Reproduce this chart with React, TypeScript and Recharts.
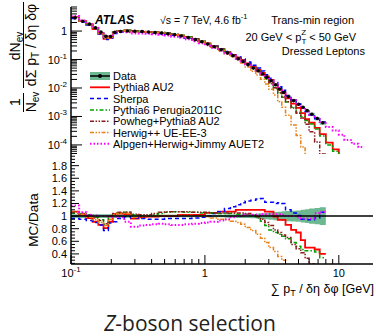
import React from 'react'
import { ComposedChart, Line, Area, Scatter, XAxis, YAxis, ReferenceLine } from 'recharts'

// bin edges of the histogram [GeV]
const binEdges = [
  0.1, 0.115, 0.13, 0.145, 0.16, 0.175, 0.19, 0.205, 0.22, 0.25, 0.28, 0.32, 0.36, 0.4, 0.45, 0.5, 0.56,
  0.63, 0.7, 0.8, 0.9, 1.0, 1.1, 1.25, 1.4, 1.55, 1.7, 1.85, 2.0, 2.2, 2.4, 2.6, 2.8, 3.0, 3.25, 3.5,
  3.75, 4.0, 4.4, 4.8, 5.2, 5.6, 6.0, 6.6, 7.2, 8.0, 9.0, 10, 11, 12.5, 14, 15.5,
]

// data (first 45 bins, 0.1 - 8 GeV)
const dataValues = [
  2.9, 2.2, 1.75, 1.3, 0.92, 0.66, 0.64, 0.9, 0.97, 1.0, 0.99, 0.96, 0.93, 0.89, 0.85, 0.8, 0.74, 0.67,
  0.59, 0.5, 0.42, 0.35, 0.28, 0.22, 0.17, 0.135, 0.107, 0.086, 0.066, 0.05, 0.04, 0.031, 0.024, 0.018,
  0.013, 0.0092, 0.007, 0.005, 0.0036, 0.0027, 0.0021, 0.0016, 0.0012, 0.00085, 0.0006,
]
// relative uncertainty of the data (green band)
const dataRelErr = [
  0.03, 0.03, 0.03, 0.03, 0.03, 0.03, 0.03, 0.03, 0.025, 0.025, 0.025, 0.02, 0.02, 0.02, 0.02, 0.02, 0.02,
  0.02, 0.02, 0.02, 0.02, 0.02, 0.02, 0.02, 0.025, 0.025, 0.03, 0.03, 0.03, 0.035, 0.04, 0.045, 0.05, 0.06,
  0.065, 0.07, 0.075, 0.08, 0.085, 0.09, 0.1, 0.11, 0.12, 0.13, 0.14,
]

// MC / Data ratios, same bins as the data
const ratioPythia8 = [
  1.07, 1.02, 0.97, 0.91, 0.86, 0.81, 0.91, 1.03, 1.04, 1.03, 0.96, 0.98, 0.99, 0.99, 1.0, 1.0, 1.0, 1.02,
  1.02, 1.02, 1.02, 1.05, 1.05, 1.07, 1.07, 1.07, 1.1, 1.1, 1.1, 1.1, 1.1, 1.1, 1.07, 1.07, 0.99, 0.94,
  0.94, 0.86, 0.78, 0.74, 0.62, 0.5, 0.5, 0.47, 0.4,
]
const ratioSherpa = [
  0.96, 0.95, 0.93, 0.9, 0.86, 0.77, 0.89, 0.91, 0.96, 0.99, 0.97, 0.96, 0.95, 0.95, 0.95, 0.96, 0.96, 0.96,
  0.96, 0.97, 0.98, 1.0, 1.04, 1.07, 1.12, 1.15, 1.18, 1.21, 1.24, 1.25, 1.27, 1.28, 1.22, 1.22, 1.2, 1.21,
  1.2, 1.1, 1.05, 1.01, 0.95, 0.94, 0.94, 0.97, 1.06,
]
const ratioPythia6 = [
  1.05, 1.04, 1.02, 0.98, 0.94, 0.87, 1.0, 1.03, 1.05, 1.06, 1.02, 1.0, 1.0, 1.02, 1.04, 1.06, 1.07, 1.07,
  1.06, 1.06, 1.05, 1.05, 1.05, 1.04, 1.04, 1.04, 1.03, 1.03, 1.03, 1.0, 0.97, 0.92, 0.85, 0.78, 0.74, 0.71,
  0.68, 0.64, 0.58, 0.52, 0.47, 0.45, 0.45, 0.43, 0.34,
]
const ratioPowheg = [
  1.06, 1.04, 1.0, 0.97, 0.93, 0.88, 1.0, 1.04, 1.06, 1.06, 1.03, 1.02, 1.02, 1.04, 1.06, 1.07, 1.07, 1.07,
  1.07, 1.06, 1.06, 1.06, 1.05, 1.05, 1.05, 1.05, 1.05, 1.05, 1.04, 1.02, 0.99, 0.95, 0.9, 0.85, 0.78, 0.74,
  0.7, 0.66, 0.55, 0.48, 0.42, 0.33, 0.24, 0.15, 0.08,
]
const ratioHerwig = [
  1.06, 1.03, 0.98, 0.94, 0.9, 0.85, 0.95, 1.02, 1.04, 1.04, 0.98, 0.99, 1.0, 1.0, 1.01, 1.01, 1.01, 1.01,
  1.01, 1.0, 1.0, 0.99, 0.97, 0.95, 0.94, 0.92, 0.9, 0.87, 0.82, 0.77, 0.71, 0.65, 0.58, 0.5, 0.44, 0.36,
  0.3, 0.22, 0.14, 0.08, 0.04, 0.02, 0.01, 0.005, 0.003,
]
const ratioAlpgen = [
  1.17, 1.06, 1.02, 1.01, 1.0, 1.0, 1.0, 0.99, 0.98, 0.91, 0.83, 0.85, 0.86, 0.87, 0.88, 0.87, 0.86, 0.86,
  0.87, 0.88, 0.89, 0.9, 0.91, 0.93, 0.95, 0.98, 1.0, 1.01, 1.02, 1.02, 1.02, 1.03, 1.03, 1.03, 1.03, 1.03,
  1.02, 1.0, 1.0, 0.98, 0.96, 0.96, 0.96, 1.05, 1.07,
]

// MC predictions past the last data bin (8 GeV and up)
const tailPythia8 = [1.2e-4, 7e-5, 4e-5]
const tailPythia6 = [1.0e-4, 6e-5, 3.5e-5]
const tailAlpgen = [4.3e-4, 3.2e-4, 2.3e-4, 1.5e-4, 1.1e-4, 8.5e-5]

// axis ticks
const xTicks = [0.1, 0.2, 0.3, 0.4, 0.5, 0.6, 0.7, 0.8, 0.9, 1, 2, 3, 4, 5, 6, 7, 8, 9, 10]
const topYMajor = [1e-4, 1e-3, 1e-2, 1e-1, 1]
const topYMantissa = [2, 3, 4, 5, 6, 7, 8, 9]
const ratioMajor = [0.4, 0.6, 0.8, 1, 1.2, 1.4, 1.6, 1.8]
const ratioMinor = [
  0.25, 0.3, 0.35, 0.45, 0.5, 0.55, 0.65, 0.7, 0.75, 0.85, 0.9, 0.95, 1.05, 1.1, 1.15, 1.25, 1.3, 1.35,
  1.45, 1.5, 1.55, 1.65, 1.7, 1.75, 1.85, 1.9, 1.95,
]

const X_DOMAIN: [number, number] = [0.1, 18]
const TOP_Y_DOMAIN: [number, number] = [4.8e-5, 7]
const RATIO_DOMAIN: [number, number] = [0.24, 1.985]

const FONT = '"Liberation Sans", Arial, Helvetica, sans-serif'

const mcSeries = [
  { key: 'py8', name: 'Pythia8 AU2', color: '#ff0000', dash: undefined, width: 1.8, ratio: ratioPythia8, tail: tailPythia8 },
  { key: 'sherpa', name: 'Sherpa', color: '#0000ff', dash: '4 3', width: 1.5, ratio: ratioSherpa, tail: [] as number[] },
  { key: 'py6', name: 'Pythia6 Perugia2011C', color: '#00a000', dash: '4 2 1.5 2', width: 1.5, ratio: ratioPythia6, tail: tailPythia6 },
  { key: 'powheg', name: 'Powheg+Pythia8 AU2', color: '#8c1c1c', dash: '4 1.5 1.5 1.5 1.5 1.5', width: 1.5, ratio: ratioPowheg, tail: [] as number[] },
  { key: 'herwig', name: 'Herwig++ UE-EE-3', color: '#e8801a', dash: '4 1.5 1.5 1.5 1.5 1.5', width: 1.5, ratio: ratioHerwig, tail: [] as number[] },
  { key: 'alpgen', name: 'Alpgen+Herwig+Jimmy AUET2', color: '#ff00ff', dash: '1.5 2', width: 2, ratio: ratioAlpgen, tail: tailAlpgen },
]

const BAND = '#6cb991'

// stepAfter: the value of bin i sits on edge i, the last bin is repeated on its right edge
const atEdge = <T,>(vals: T[], i: number): T | null =>
  i < vals.length ? vals[i] : i === vals.length && vals.length > 0 ? vals[vals.length - 1] : null

const dataBand = dataValues.map((d, i) => [d * (1 - dataRelErr[i]), d * (1 + dataRelErr[i])])
const ratioBand = dataRelErr.map((e) => [1 - e, 1 + e])

const topRows = binEdges.map((x, i) => {
  const row: Record<string, unknown> = { x, band: atEdge(dataBand, i) }
  mcSeries.forEach((s) => {
    const vals = [...dataValues.map((d, j) => d * s.ratio[j]), ...s.tail]
    row[s.key] = atEdge(vals, i)
  })
  return row
})

const ratioRows = binEdges.slice(0, dataValues.length + 1).map((x, i) => {
  const row: Record<string, unknown> = { x, band: atEdge(ratioBand, i) }
  mcSeries.forEach((s) => {
    row[s.key] = atEdge(s.ratio, i)
  })
  return row
})

const dataPoints = dataValues.map((y, i) => ({ x: Math.sqrt(binEdges[i] * binEdges[i + 1]), y }))

const topYTicks = [
  ...topYMajor,
  ...[-5, -4, -3, -2, -1, 0].flatMap((e) => topYMantissa.map((m) => m * Math.pow(10, e))),
].filter((v) => v >= TOP_Y_DOMAIN[0] && v <= TOP_Y_DOMAIN[1])

const isMajorLog = (v: number) => {
  const l = Math.log10(v)
  return Math.abs(l - Math.round(l)) < 1e-9
}

function LogLabel({ v, x, y, anchor }: { v: number; x: number; y: number; anchor: 'middle' | 'end' }) {
  const e = Math.round(Math.log10(v))
  if (e >= 0) {
    return (
      <text x={x} y={y} textAnchor={anchor} fontSize={11} fontFamily={FONT} fill="#000">
        {e === 0 ? '1' : '10'}
      </text>
    )
  }
  return (
    <text x={x} y={y} textAnchor={anchor} fontSize={11} fontFamily={FONT} fill="#000">
      10<tspan dy={-5} fontSize={8}>{e}</tspan>
    </text>
  )
}

const frame = { stroke: '#000', strokeWidth: 1.5 }

const xTickBottom = (withLabel: boolean) => (props: any) => {
  const { x, y, payload } = props
  const major = isMajorLog(payload.value)
  return (
    <g>
      <line x1={x} y1={y} x2={x} y2={y - (major ? 9 : 5)} stroke="#000" />
      {withLabel && major && <LogLabel v={payload.value} x={x} y={y + 13} anchor="middle" />}
    </g>
  )
}

const xTickTop = (props: any) => {
  const { x, y, payload } = props
  const major = isMajorLog(payload.value)
  return <line x1={x} y1={y} x2={x} y2={y + (major ? 9 : 5)} stroke="#000" />
}

const yTickLogLeft = (props: any) => {
  const { x, y, payload } = props
  const major = isMajorLog(payload.value)
  return (
    <g>
      <line x1={x} y1={y} x2={x + (major ? 11 : 6)} y2={y} stroke="#000" />
      {major && <LogLabel v={payload.value} x={x - 4} y={y + 4} anchor="end" />}
    </g>
  )
}

const yTickLogRight = (props: any) => {
  const { x, y, payload } = props
  const major = isMajorLog(payload.value)
  return <line x1={x} y1={y} x2={x - (major ? 11 : 6)} y2={y} stroke="#000" />
}

const isRatioMajor = (v: number) => ratioMajor.some((m) => Math.abs(m - v) < 1e-9)

const yTickRatioLeft = (props: any) => {
  const { x, y, payload } = props
  const v = payload.value
  const major = isRatioMajor(v)
  return (
    <g>
      <line x1={x} y1={y} x2={x + (major ? 8 : 4)} y2={y} stroke="#000" />
      {major && (
        <text x={x - 4} y={y + 4} textAnchor="end" fontSize={11} fontFamily={FONT} fill="#000">
          {v === 1 ? '1' : v.toFixed(1)}
        </text>
      )}
    </g>
  )
}

const yTickRatioRight = (props: any) => {
  const { x, y, payload } = props
  const major = isRatioMajor(payload.value)
  return <line x1={x} y1={y} x2={x - (major ? 8 : 4)} y2={y} stroke="#000" />
}

const axisCommon = {
  type: 'number' as const,
  allowDataOverflow: true,
  interval: 0 as const,
  tickSize: 0,
  tickMargin: 0,
  tickLine: false,
  axisLine: frame,
}

function Legend() {
  const x0 = 90
  const x1 = 110
  const rows = [{ name: 'Data' }, ...mcSeries]
  return (
    <g fontFamily={FONT} fontSize={11}>
      {rows.map((r, i) => {
        const cy = 76 + i * 11.3
        const s = mcSeries.find((m) => m.name === r.name)
        return (
          <g key={r.name}>
            {s ? (
              <line x1={x0} y1={cy} x2={x1} y2={cy} stroke={s.color} strokeWidth={s.width} strokeDasharray={s.dash} />
            ) : (
              <g>
                <rect x={x0} y={cy - 4} width={x1 - x0} height={8} fill={BAND} />
                <line x1={x0} y1={cy} x2={x1} y2={cy} stroke="#000" strokeWidth={1.5} />
                <circle cx={(x0 + x1) / 2} cy={cy} r={2} fill="#000" />
              </g>
            )}
            <text x={113} y={cy + 4} fill="#000">
              {r.name}
            </text>
          </g>
        )
      })}
    </g>
  )
}

export default function App() {
  return (
    <div style={{ position: 'absolute', left: 0, top: 0, width: 376, height: 336, background: '#fff' }}>
      <div style={{ position: 'absolute', left: 0, top: 0 }}>
        <ComposedChart width={376} height={155} data={topRows} margin={{ top: 7, right: 3, bottom: 1, left: 0 }}>
          <XAxis {...axisCommon} xAxisId="b" dataKey="x" scale="log" domain={X_DOMAIN} ticks={xTicks} height={0} tick={xTickBottom(false)} />
          <XAxis {...axisCommon} xAxisId="t" orientation="top" dataKey="x" scale="log" domain={X_DOMAIN} ticks={xTicks} height={0} tick={xTickTop} />
          <YAxis {...axisCommon} yAxisId="l" scale="log" domain={TOP_Y_DOMAIN} ticks={topYTicks} width={71} tick={yTickLogLeft} />
          <YAxis {...axisCommon} yAxisId="r" orientation="right" scale="log" domain={TOP_Y_DOMAIN} ticks={topYTicks} width={0} tick={yTickLogRight} />
          <Area xAxisId="b" yAxisId="l" dataKey="band" type="stepAfter" fill={BAND} fillOpacity={1} stroke="none" isAnimationActive={false} />
          {mcSeries.map((s) => (
            <Line
              key={s.key}
              xAxisId="b"
              yAxisId="l"
              dataKey={s.key}
              type="stepAfter"
              stroke={s.color}
              strokeWidth={s.width}
              strokeDasharray={s.dash}
              dot={false}
              isAnimationActive={false}
            />
          ))}
          <Scatter
            xAxisId="b"
            yAxisId="l"
            data={dataPoints}
            dataKey="y"
            isAnimationActive={false}
            shape={(p: any) => <circle cx={p.cx} cy={p.cy} r={1.8} fill="#000" />}
          />
        </ComposedChart>
      </div>

      <div style={{ position: 'absolute', left: 0, top: 154 }}>
        <ComposedChart width={376} height={146} data={ratioRows} margin={{ top: 0, right: 3, bottom: 0, left: 0 }}>
          <XAxis {...axisCommon} xAxisId="b" dataKey="x" scale="log" domain={X_DOMAIN} ticks={xTicks} height={36} tick={xTickBottom(true)} />
          <XAxis {...axisCommon} xAxisId="t" orientation="top" dataKey="x" scale="log" domain={X_DOMAIN} ticks={xTicks} height={0} tick={xTickTop} />
          <YAxis {...axisCommon} yAxisId="l" domain={RATIO_DOMAIN} ticks={[...ratioMajor, ...ratioMinor]} width={71} tick={yTickRatioLeft} />
          <YAxis {...axisCommon} yAxisId="r" orientation="right" domain={RATIO_DOMAIN} ticks={[...ratioMajor, ...ratioMinor]} width={0} tick={yTickRatioRight} />
          <Area xAxisId="b" yAxisId="l" dataKey="band" type="stepAfter" fill={BAND} fillOpacity={1} stroke="none" isAnimationActive={false} />
          {mcSeries.map((s) => (
            <Line
              key={s.key}
              xAxisId="b"
              yAxisId="l"
              dataKey={s.key}
              type="stepAfter"
              stroke={s.color}
              strokeWidth={s.width}
              strokeDasharray={s.dash}
              dot={false}
              isAnimationActive={false}
            />
          ))}
          <ReferenceLine xAxisId="b" yAxisId="l" y={1} stroke="#000" strokeWidth={1.5} />
        </ComposedChart>
      </div>

      <svg width={376} height={336} style={{ position: 'absolute', left: 0, top: 0, pointerEvents: 'none' }}>
        <g fontFamily={FONT} fill="#000">
          {/* y title, top panel */}
          <text transform="translate(20,102) rotate(-90)" fontSize={14} textAnchor="middle">1</text>
          <line x1={23.5} y1={93} x2={23.5} y2={112} stroke="#000" strokeWidth={1} />
          <text transform="translate(35.5,102) rotate(-90)" fontSize={14} textAnchor="middle">
            N<tspan dy={3} fontSize={10}>ev</tspan>
          </text>
          <text transform="translate(20,46) rotate(-90)" fontSize={14} textAnchor="middle">
            dN<tspan dy={3} fontSize={10}>ev</tspan>
          </text>
          <line x1={23.5} y1={2} x2={23.5} y2={88} stroke="#000" strokeWidth={1} />
          <text transform="translate(35.5,45) rotate(-90)" fontSize={14} textAnchor="middle">
            dΣ p<tspan dy={3} fontSize={10}>T</tspan>
            <tspan dy={-3}> / δη δφ</tspan>
          </text>

          {/* y title, ratio panel */}
          <text transform="translate(38,220) rotate(-90)" fontSize={13.5} textAnchor="middle">MC/Data</text>

          {/* x title */}
          <text x={374} y={293} fontSize={12.5} textAnchor="end">
            ∑ p<tspan dy={3} fontSize={9}>T</tspan>
            <tspan dy={-3}> / δη δφ [GeV]</tspan>
          </text>

          {/* labels in the top panel */}
          <text x={95} y={24} fontSize={12} fontWeight="bold" fontStyle="italic">ATLAS</text>
          <text x={160} y={24} fontSize={10.5}>
            √s = 7 TeV, 4.6 fb<tspan dy={-5} fontSize={7.5}>-1</tspan>
          </text>
          <text x={354} y={24} fontSize={11} textAnchor="end">Trans-min region</text>
          <text x={356} y={41} fontSize={11} textAnchor="end">
            20 GeV &lt; p<tspan dy={3} fontSize={8}>T</tspan>
            <tspan dy={-9} dx={-5} fontSize={8}>Z</tspan>
            <tspan dy={6}> &lt; 50 GeV</tspan>
          </text>
          <text x={365} y={55} fontSize={11} textAnchor="end">Dressed Leptons</text>

          <Legend />
        </g>

        <text x={190} y={331} fontSize={21} textAnchor="middle" fontFamily='"Open Sans", "Noto Sans", sans-serif' fill="#231f20">
          <tspan fontStyle="italic">Z</tspan>-boson selection
        </text>
      </svg>
    </div>
  )
}
